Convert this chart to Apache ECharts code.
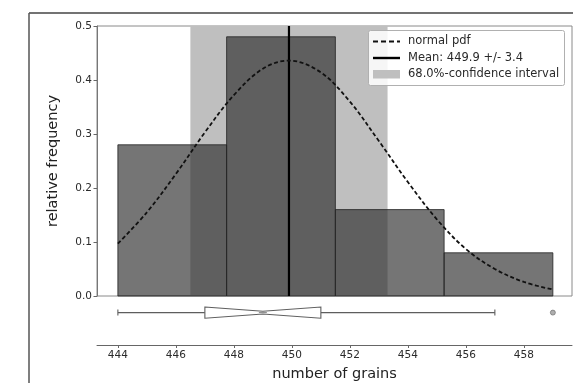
<!DOCTYPE html>
<html>
<head>
<meta charset="utf-8">
<script src="https://cdn.jsdelivr.net/npm/echarts@6/dist/echarts.min.js"></script>
<style>
  html, body { margin: 0; padding: 0; background: #fff; }
  #chart { width: 573px; height: 383px; }
</style>
</head>
<body>
<div id="chart"></div>
<script>
// histogram bins (edges) and relative frequencies
const binEdges = [444, 447.75, 451.5, 455.25, 459];
const binHeights = [0.28, 0.48, 0.16, 0.08];

// mean +/- std
const meanValue = 449.9;
const bandRange = [446.5, 453.3];

// dashed normal pdf
const pdfX = [444, 445, 446, 447, 448, 449, 449.9, 451, 452, 453, 454, 455, 456, 457, 458, 459];
const pdfY = [0.097, 0.155, 0.226, 0.303, 0.372, 0.421, 0.436, 0.414, 0.36, 0.287, 0.211, 0.142, 0.087, 0.05, 0.026, 0.012];

// notched boxplot: low whisker, q1, median, q3, high whisker
const boxStats = [444, 447, 449, 451, 457];
const outliers = [459];

// axis ticks
const xTicks = [444, 446, 448, 450, 452, 454, 456, 458];
const yTicks = [0, 0.1, 0.2, 0.3, 0.4, 0.5];

const xMin = 443.28;
const xMax = 459.66;
const font = "DejaVu Sans";

const chart = echarts.init(document.getElementById("chart"));

const histData = binHeights.map((h, i) => [binEdges[i], binEdges[i + 1], h]);

const option = {
  animation: false,
  backgroundColor: "#fff",
  textStyle: { fontFamily: font },
  grid: [
    { left: 97, top: 26, width: 475, height: 270, show: true, borderColor: "#8a8a8a", borderWidth: 1, backgroundColor: "transparent" },
    { left: 97, top: 300, width: 475, height: 47, show: false }
  ],
  xAxis: [
    {
      type: "value", gridIndex: 0, min: xMin, max: xMax,
      axisLine: { show: false }, axisTick: { show: false },
      axisLabel: { show: false }, splitLine: { show: false }
    },
    {
      type: "value", gridIndex: 1, min: xMin, max: xMax,
      axisLine: { show: true, onZero: false, lineStyle: { color: "#666", width: 1 } },
      axisTick: { show: true, length: 3, customValues: xTicks, lineStyle: { color: "#666" } },
      axisLabel: { customValues: xTicks, fontSize: 10.5, color: "#2a2a2a", margin: 5, fontFamily: font },
      splitLine: { show: false },
      name: "number of grains", nameLocation: "middle", nameGap: 22,
      nameTextStyle: { fontSize: 14.5, color: "#222", fontFamily: font }
    }
  ],
  yAxis: [
    {
      type: "value", gridIndex: 0, min: 0, max: 0.5,
      axisLine: { show: true, lineStyle: { color: "#777" } },
      axisTick: { show: true, length: 3.5, customValues: yTicks, lineStyle: { color: "#666" } },
      axisLabel: { customValues: yTicks, formatter: v => v.toFixed(1), fontSize: 10.5, color: "#2a2a2a", margin: 5, fontFamily: font },
      splitLine: { show: false },
      name: "relative frequency", nameLocation: "middle", nameGap: 36, nameRotate: 90,
      nameTextStyle: { fontSize: 14.5, color: "#222", fontFamily: font }
    },
    { type: "value", gridIndex: 1, min: 0, max: 1, show: false }
  ],
  series: [
    {
      // 68% confidence band
      type: "custom", xAxisIndex: 0, yAxisIndex: 0, z: 1,
      data: [bandRange],
      renderItem: (params, api) => {
        const p0 = api.coord([api.value(0), 0.5]);
        const p1 = api.coord([api.value(1), 0]);
        return { type: "rect", shape: { x: p0[0], y: p0[1], width: p1[0] - p0[0], height: p1[1] - p0[1] }, style: { fill: "#bfbfbf" } };
      }
    },
    {
      // histogram
      type: "custom", xAxisIndex: 0, yAxisIndex: 0, z: 2,
      data: histData,
      renderItem: (params, api) => {
        const p0 = api.coord([api.value(0), api.value(2)]);
        const p1 = api.coord([api.value(1), 0]);
        return {
          type: "rect",
          shape: { x: p0[0], y: p0[1], width: p1[0] - p0[0], height: p1[1] - p0[1] },
          style: { fill: "rgba(45,45,45,0.66)", stroke: "rgba(35,35,35,0.8)", lineWidth: 1 }
        };
      }
    },
    {
      // mean line
      type: "line", xAxisIndex: 0, yAxisIndex: 0, z: 4,
      data: [[meanValue, 0], [meanValue, 0.5]],
      symbol: "none", lineStyle: { color: "#000", width: 2.2 }
    },
    {
      // normal pdf
      type: "line", xAxisIndex: 0, yAxisIndex: 0, z: 5,
      data: pdfX.map((x, i) => [x, pdfY[i]]),
      smooth: 0.35, symbol: "none",
      lineStyle: { color: "#111", width: 1.8, type: [4, 2.5] }
    },
    {
      // notched boxplot
      type: "custom", xAxisIndex: 1, yAxisIndex: 1, z: 3,
      data: [boxStats],
      renderItem: (params, api) => {
        const yc = api.coord([0, 0.72])[1];
        const lo = api.coord([api.value(0), 0])[0];
        const q1 = api.coord([api.value(1), 0])[0];
        const md = api.coord([api.value(2), 0])[0];
        const q3 = api.coord([api.value(3), 0])[0];
        const hi = api.coord([api.value(4), 0])[0];
        const h = 5.6, w = 1.4, cap = 3;
        const st = { stroke: "#5e5e5e", lineWidth: 1.1, fill: null };
        return {
          type: "group",
          children: [
            { type: "line", shape: { x1: lo, y1: yc, x2: q1, y2: yc }, style: st },
            { type: "line", shape: { x1: q3, y1: yc, x2: hi, y2: yc }, style: st },
            { type: "line", shape: { x1: lo, y1: yc - cap, x2: lo, y2: yc + cap }, style: st },
            { type: "line", shape: { x1: hi, y1: yc - cap, x2: hi, y2: yc + cap }, style: st },
            {
              type: "polygon",
              shape: { points: [[q1, yc - h], [md, yc - w], [q3, yc - h], [q3, yc + h], [md, yc + w], [q1, yc + h]] },
              style: { stroke: "#5e5e5e", lineWidth: 1.1, fill: "#fff" }
            },
            { type: "line", shape: { x1: md - 4, y1: yc, x2: md + 4, y2: yc }, style: { stroke: "#888", lineWidth: 1 } }
          ]
        };
      }
    },
    {
      // outlier
      type: "scatter", xAxisIndex: 1, yAxisIndex: 1, z: 3,
      data: outliers.map(x => [x, 0.72]),
      symbol: "circle", symbolSize: 5,
      itemStyle: { color: "#9a9a9a", borderColor: "#666", borderWidth: 0.8 }
    }
  ],
  graphic: [
    // figure frame
    { type: "line", z: 30, shape: { x1: 29, y1: 13, x2: 573, y2: 13 }, style: { stroke: "#444", lineWidth: 1.5 } },
    { type: "line", z: 30, shape: { x1: 29, y1: 13, x2: 29, y2: 383 }, style: { stroke: "#555", lineWidth: 1.5 } },
    // legend
    { type: "rect", z: 30, shape: { x: 368.5, y: 30.5, width: 196, height: 55, r: 2 }, style: { fill: "rgba(255,255,255,0.85)", stroke: "#b0b0b0", lineWidth: 1 } },
    { type: "line", z: 31, shape: { x1: 373, y1: 41.5, x2: 400, y2: 41.5 }, style: { stroke: "#111", lineWidth: 1.8, lineDash: [5, 3] } },
    { type: "text", z: 31, style: { x: 408, y: 41.5, text: "normal pdf", fontSize: 11.5, fontFamily: font, fill: "#2a2a2a", verticalAlign: "middle" } },
    { type: "line", z: 31, shape: { x1: 373, y1: 58, x2: 400, y2: 58 }, style: { stroke: "#000", lineWidth: 2.4 } },
    { type: "text", z: 31, style: { x: 408, y: 58, text: "Mean: 449.9 +/- 3.4", fontSize: 11.5, fontFamily: font, fill: "#2a2a2a", verticalAlign: "middle" } },
    { type: "rect", z: 31, shape: { x: 373, y: 70, width: 27, height: 8.5 }, style: { fill: "#bfbfbf" } },
    { type: "text", z: 31, style: { x: 408, y: 74.5, text: "68.0%-confidence interval", fontSize: 11.5, fontFamily: font, fill: "#2a2a2a", verticalAlign: "middle" } }
  ]
};

chart.setOption(option);
</script>
</body>
</html>
